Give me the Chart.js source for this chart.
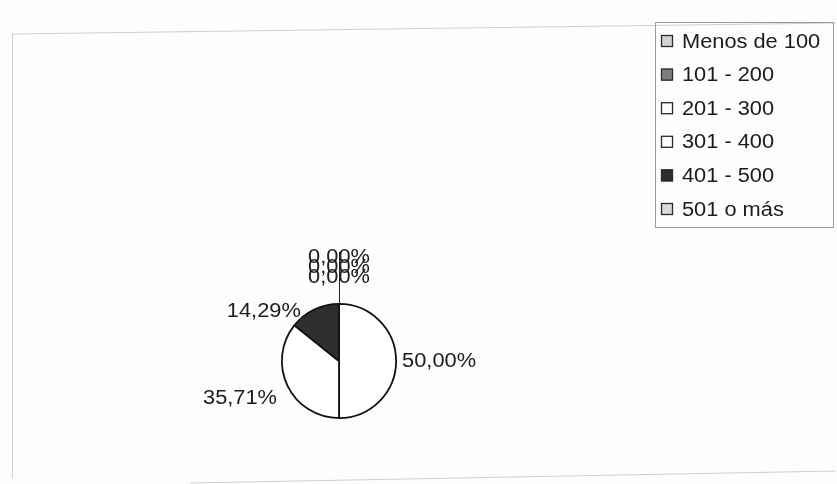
<!DOCTYPE html>
<html>
<head>
<meta charset="utf-8">
<script src="https://cdn.jsdelivr.net/npm/chart.js@4/dist/chart.umd.min.js"></script>
<style>
html,body{margin:0;padding:0;background:#fdfdfd}
#wrap{width:837px;height:484px}
</style>
</head>
<body>
<div id="wrap"><canvas id="c" width="837" height="484"></canvas></div>
<script>
const labels = ['Menos de 100','101 - 200','201 - 300','301 - 400','401 - 500','501 o más']
const percents = [0, 0, 50.00, 35.71, 14.29, 0]
const colors = ['#d2d2d2','#7e7e7e','#ffffff','#ffffff','#2e2e2e','#dadada']

const FONT = '20px "Liberation Sans", Arial, sans-serif'
const STRETCH = 1.09
const fmt = v => v.toFixed(2).replace('.', ',') + '%'

function stretchText(ctx, txt, x, y, align){
  const w = ctx.measureText(txt).width * STRETCH
  let left = x
  if(align === 'right') left = x - w
  else if(align === 'center') left = x - w/2
  ctx.save(); ctx.translate(left, y); ctx.scale(STRETCH, 1)
  ctx.textAlign = 'left'; ctx.fillText(txt, 0, 0); ctx.restore()
}

// faint outer frame like the scanned chart area
const framePlugin = {
  id:'frame',
  beforeDraw(chart){
    const ctx = chart.ctx
    ctx.save()
    ctx.fillStyle = '#fdfdfd'; ctx.fillRect(0,0,chart.width,chart.height)
    ctx.strokeStyle = '#cfcfcf'; ctx.lineWidth = 1
    ctx.beginPath()
    ctx.moveTo(12.5, 478); ctx.lineTo(12.5, 34); ctx.lineTo(836, 23)
    ctx.moveTo(190, 483); ctx.lineTo(836, 471)
    ctx.stroke()
    ctx.restore()
  }
}

// percentage labels around the pie, Excel style
const pieLabels = {
  id:'pieLabels',
  afterDatasetsDraw(chart){
    const ctx = chart.ctx
    const arcs = chart.getDatasetMeta(0).data
    const ds = chart.data.datasets[0].data
    ctx.save()
    ctx.font = FONT; ctx.fillStyle = '#1c1c1c'; ctx.textBaseline = 'middle'
    let zeroIdx = 0
    arcs.forEach((arc, i) => {
      const {x, y, outerRadius, startAngle, endAngle} = arc.getProps(['x','y','outerRadius','startAngle','endAngle'], true)
      const txt = fmt(ds[i])
      if(ds[i] === 0){
        // zero slices pile up on top of the pie, joined by a leader line
        if(zeroIdx === 0){
          ctx.strokeStyle = '#222'; ctx.lineWidth = 1
          ctx.beginPath(); ctx.moveTo(x + 0.5, y - outerRadius); ctx.lineTo(x + 0.5, y - outerRadius - 52); ctx.stroke()
        }
        stretchText(ctx, txt, x, y - outerRadius - 46 + zeroIdx * 10, 'center')
        zeroIdx++
        return
      }
      const mid = (startAngle + endAngle) / 2
      const c = Math.cos(mid), s = Math.sin(mid)
      let px = x + c * (outerRadius + 6), py = y + s * (outerRadius + 6)
      if(c > 0.3){
        stretchText(ctx, txt, px, py, 'left')
      } else {
        stretchText(ctx, txt, px - 12 * Math.abs(s), py + 7 + 8 * Math.max(s, 0), 'right')
      }
    })
    ctx.restore()
  }
}

// boxed legend at the top right
const boxLegend = {
  id:'boxLegend',
  afterDraw(chart){
    const ctx = chart.ctx
    ctx.save()
    ctx.strokeStyle = '#9a9a9a'; ctx.lineWidth = 1
    ctx.strokeRect(655.5, 22.5, 178, 205)
    ctx.font = FONT; ctx.textBaseline = 'middle'
    labels.forEach((lab, i) => {
      const cy = 41 + i * 33.6
      ctx.fillStyle = colors[i]; ctx.fillRect(661, cy - 6, 12, 12)
      ctx.strokeStyle = '#2a2a2a'; ctx.lineWidth = 1.3; ctx.strokeRect(661.5, cy - 5.5, 11, 11)
      ctx.fillStyle = '#1c1c1c'
      stretchText(ctx, lab, 682, cy + 1, 'left')
    })
    ctx.restore()
  }
}

new Chart(document.getElementById('c'), {
  type:'pie',
  data:{labels, datasets:[{data:percents, backgroundColor:colors, borderColor:'#111', borderWidth:1.8, hoverOffset:0}]},
  options:{
    responsive:false, animation:false, events:[],
    layout:{padding:{left:281, right:440, top:303, bottom:65}},
    plugins:{legend:{display:false}, tooltip:{enabled:false}}
  },
  plugins:[framePlugin, pieLabels, boxLegend]
})
</script>
</body>
</html>
